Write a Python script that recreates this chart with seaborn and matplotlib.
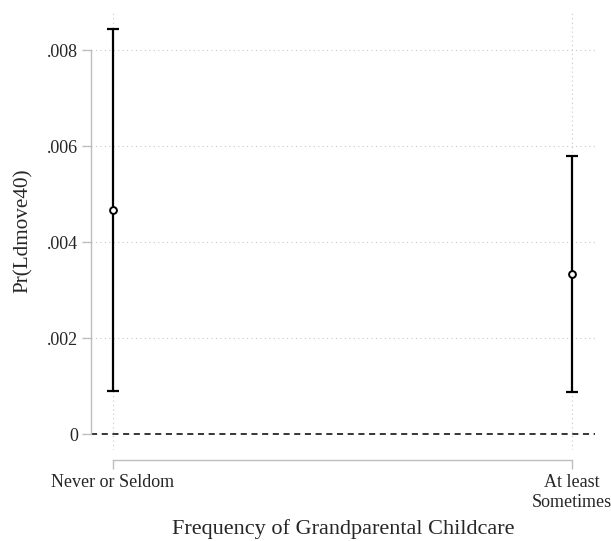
import matplotlib
matplotlib.use('Agg')
import matplotlib.pyplot as plt
import seaborn as sns
import pandas as pd

# margins-style predicted probabilities with 95% CIs
categories = ['Never or Seldom', 'At least\nSometimes']
estimates = [0.00468, 0.00334]
ci_lower = [0.00090, 0.00089]
ci_upper = [0.00843, 0.00579]
y_ticks = [0, 0.002, 0.004, 0.006, 0.008]
y_tick_labels = ['0', '.002', '.004', '.006', '.008']

df = pd.DataFrame({
    'pos': range(len(categories)),
    'category': categories,
    'est': estimates,
    'lo': ci_lower,
    'hi': ci_upper,
})

sns.set_theme(style='white')
plt.rcParams['font.family'] = ['Liberation Serif', 'DejaVu Serif']

W, H = 611, 541
fig = plt.figure(figsize=(W / 100, H / 100), dpi=100)
left, right, top, bottom = 91, 595, 12, 450
ax = fig.add_axes([left / W, 1 - bottom / H, (right - left) / W, (bottom - top) / H])

grid_kw = dict(color='#c8c8c8', linestyle=(0, (1, 3)), linewidth=0.8, zorder=0)
for y in y_ticks[1:]:
    ax.axhline(y, **grid_kw)
for x in df['pos']:
    ax.axvline(x, **grid_kw)

ax.axhline(0, color='black', linestyle=(0, (4, 3)), linewidth=1.1, zorder=1)

ax.errorbar(df['pos'], df['est'],
            yerr=[df['est'] - df['lo'], df['hi'] - df['est']],
            fmt='none', ecolor='black', elinewidth=1.6, capsize=4,
            capthick=1.6, zorder=2)
sns.scatterplot(data=df, x='pos', y='est', ax=ax, s=24, marker='o',
                facecolor='white', edgecolor='black', linewidth=1.4,
                zorder=3, legend=False)

ax.set_xlim(-0.0473, 1.0508)
ax.set_ylim(-0.000323, 0.008793)
ax.set_yticks(y_ticks)
ax.set_yticklabels(y_tick_labels)
ax.set_xticks(df['pos'])
ax.set_xticklabels(categories)

for s in ['top', 'right']:
    ax.spines[s].set_visible(False)
ax.spines['left'].set_bounds(0, 0.008)
ax.spines['bottom'].set_bounds(0, 1)
ax.spines['bottom'].set_position(('outward', 7))
for s in ['left', 'bottom']:
    ax.spines[s].set_color('#bdbdbd')
    ax.spines[s].set_linewidth(1.0)

ax.tick_params(axis='both', which='major', direction='out', length=6.5,
               width=1.0, color='#bdbdbd', labelsize=13, pad=3,
               left=True, bottom=True)
ax.tick_params(axis='x', pad=4)

ax.set_xlabel('Frequency of Grandparental Childcare', fontsize=16, labelpad=6)
ax.set_ylabel('Pr(Ldmove40)', fontsize=15.2, labelpad=10)

fig.savefig('out.png', dpi=100)
